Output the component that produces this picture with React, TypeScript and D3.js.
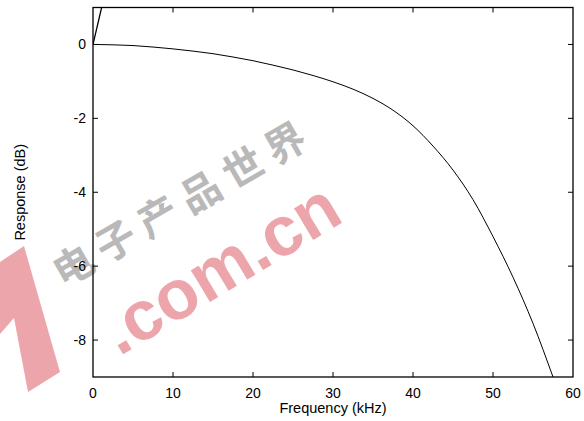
import { useEffect, useRef } from 'react';
import * as d3 from 'd3';

// values
const freq = [0, 2.5, 5, 7.5, 10, 12.5, 15, 17.5, 20, 22.5, 25, 27.5, 30, 32.5, 35, 37.5, 40, 42.5, 45, 47.5, 50, 52.5, 55, 57.5];
const response = [0, -0.01, -0.03, -0.07, -0.12, -0.18, -0.25, -0.34, -0.44, -0.56, -0.69, -0.84, -1.01, -1.21, -1.46, -1.78, -2.2, -2.75, -3.4, -4.2, -5.2, -6.3, -7.55, -9.0];
// short steep trace leaving the top near the origin
const steepFreq = [0, 1.1];
const steepResponse = [0, 1.02];

const xTicks = [0, 10, 20, 30, 40, 50, 60];
const yTicks = [0, -2, -4, -6, -8];

const App = (): JSX.Element => {
  const svgRef = useRef<SVGSVGElement>(null);

  useEffect(() => {
    if (svgRef.current) {
      svgRef.current.innerHTML = '';
    }
    const width = 584;
    const height = 421;
    const marginTop = 7.5;
    const marginRight = 11;
    const marginBottom = 44;
    const marginLeft = 93;
    const font = '"Liberation Sans", Arial, sans-serif';

    const x = d3.scaleLinear([0, 60], [marginLeft, width - marginRight]);
    const y = d3.scaleLinear([-9, 1], [height - marginBottom, marginTop]);

    const svg = d3.select(svgRef.current).attr('width', width).attr('height', height).attr('viewBox', [0, 0, width, height]);

    // watermark behind the plot
    const wm = svg.append('g').attr('pointer-events', 'none');
    wm.append('path')
      .attr('d', 'M0,262 L24,246 L60,372 L28,392 L14,318 L0,334 Z')
      .attr('fill', '#eca6ab');
    wm.append('text')
      .attr('transform', 'translate(182,200) rotate(-30)')
      .attr('font-family', '"Noto Sans CJK SC", sans-serif')
      .attr('font-size', 40)
      .attr('font-weight', 'bold')
      .attr('text-anchor', 'middle')
      .attr('dominant-baseline', 'central')
      .attr('fill', '#b9b9b9')
      .attr('letter-spacing', 9)
      .text('电子产品世界');
    wm.append('text')
      .attr('transform', 'translate(220,268) rotate(-31)')
      .attr('font-family', font)
      .attr('font-size', 70)
      .attr('font-weight', 'bold')
      .attr('text-anchor', 'middle')
      .attr('dominant-baseline', 'central')
      .attr('fill', '#eca6ab')
      .text('.com.cn');

    svg.append('clipPath').attr('id', 'plot-clip')
      .append('rect')
      .attr('x', marginLeft)
      .attr('y', marginTop)
      .attr('width', width - marginLeft - marginRight)
      .attr('height', height - marginTop - marginBottom);

    // ticks (inward, mirrored like gnuplot)
    const ticks = svg.append('g').attr('stroke', '#000').attr('stroke-width', 1);
    xTicks.slice(1, -1).forEach((t) => {
      ticks.append('line').attr('x1', x(t)).attr('x2', x(t)).attr('y1', y(-9)).attr('y2', y(-9) - 5);
      ticks.append('line').attr('x1', x(t)).attr('x2', x(t)).attr('y1', y(1)).attr('y2', y(1) + 5);
    });
    yTicks.forEach((t) => {
      ticks.append('line').attr('x1', x(0)).attr('x2', x(0) + 5).attr('y1', y(t)).attr('y2', y(t));
      ticks.append('line').attr('x1', x(60)).attr('x2', x(60) - 5).attr('y1', y(t)).attr('y2', y(t));
    });

    // curves
    const line = d3
      .line<number>()
      .x((d, i) => x(freq[i]))
      .y((d) => y(d))
      .curve(d3.curveMonotoneX);
    svg.append('path')
      .attr('clip-path', 'url(#plot-clip)')
      .attr('fill', 'none')
      .attr('stroke', '#000')
      .attr('stroke-width', 1)
      .attr('d', line(response));

    const steep = d3
      .line<number>()
      .x((d, i) => x(steepFreq[i]))
      .y((d) => y(d));
    svg.append('path')
      .attr('clip-path', 'url(#plot-clip)')
      .attr('fill', 'none')
      .attr('stroke', '#000')
      .attr('stroke-width', 1.3)
      .attr('d', steep(steepResponse));

    // frame
    svg.append('rect')
      .attr('x', x(0))
      .attr('y', y(1))
      .attr('width', x(60) - x(0))
      .attr('height', y(-9) - y(1))
      .attr('fill', 'none')
      .attr('stroke', '#000')
      .attr('stroke-width', 1.3);

    // labels
    const labels = svg.append('g').attr('font-family', font).attr('font-size', 14).attr('fill', '#000');
    xTicks.forEach((t) => {
      labels.append('text').attr('x', x(t)).attr('y', 398).attr('text-anchor', 'middle').text(String(t));
    });
    yTicks.forEach((t) => {
      labels.append('text').attr('x', x(0) - 7).attr('y', y(t) + 5).attr('text-anchor', 'end').text(String(t));
    });
    labels.append('text')
      .attr('x', (x(0) + x(60)) / 2)
      .attr('y', 413)
      .attr('font-size', 14.5)
      .attr('text-anchor', 'middle')
      .text('Frequency (kHz)');
    labels.append('text')
      .attr('transform', `translate(25,${(y(1) + y(-9)) / 2}) rotate(-90)`)
      .attr('font-size', 14.5)
      .attr('text-anchor', 'middle')
      .text('Response (dB)');
  }, []);

  return (
    <div style={{ position: 'absolute', left: 0, top: 0, background: '#fff' }}>
      <svg ref={svgRef} style={{ display: 'block' }} />
    </div>
  );
};

export default App;
